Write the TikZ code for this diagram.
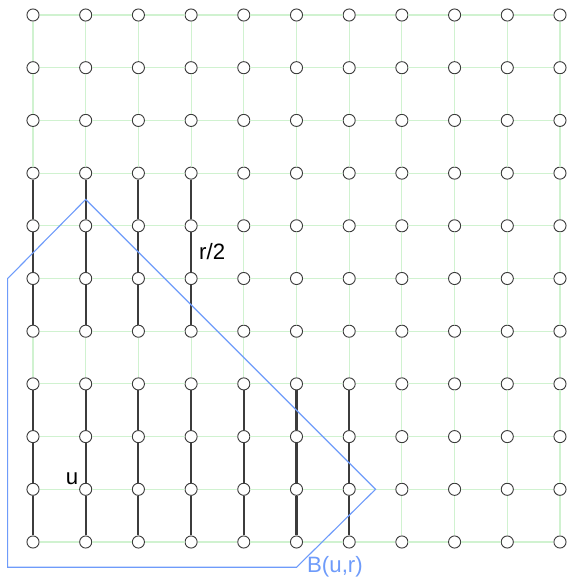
\documentclass[tikz,border=0pt]{standalone}
\usepackage{fontspec}
\setmainfont{Liberation Sans}
\usetikzlibrary{positioning}
\definecolor{gridgreen}{RGB}{208,242,208}
\definecolor{ballblue}{RGB}{110,155,250}
\definecolor{edgegray}{RGB}{60,60,60}
\tikzstyle{vertex}=[draw=edgegray,fill=white,circle,inner sep=0pt,minimum size=0.23cm,line width=0.5pt]
\tikzstyle{grid edge}=[draw=gridgreen,line width=0.6pt]
\tikzstyle{path edge}=[draw=edgegray,line width=1.1pt]
\tikzstyle{every node}=[font=\fontsize{12}{14}\selectfont]

\begin{document}
\begin{tikzpicture}
    \useasboundingbox (-0.626,-0.721) rectangle (10.133,10.285);
    % vertices
    \foreach \i in {0,...,10}
        \foreach \j in {0,...,10}
            \node[vertex] (v-\i-\j) at (\i,\j) {};
    % grid
    \foreach \i in {0,...,10}
        \foreach \j [count=\k from 1] in {0,...,9} {
            \draw[grid edge] (v-\i-\j) -- (v-\i-\k);
            \draw[grid edge] (v-\j-\i) -- (v-\k-\i);
        }
    % paths
    \foreach \i in {0,...,3}
        \foreach \j [count=\k from 5] in {4,5,6}
            \draw[path edge] (v-\i-\j) -- (v-\i-\k);
    \foreach \i in {0,...,6}
        \foreach \j [count=\k from 1] in {0,1,2}
            \draw[path edge] (v-\i-\j) -- (v-\i-\k);
    % ball
    \draw[ballblue, line width=0.6pt] (1,6.5) -- (6.5,1) -- (5,-0.48) -- (-0.48,-0.48) -- (-0.48,5) -- cycle;
    \node[text=ballblue] (ball) at (5.73,-0.47) {B(u,r)};
    \node (u) at (0.74,1.21) {u};
    \node (half) at (3.40,5.52) {r/2};
\end{tikzpicture}
\end{document}
